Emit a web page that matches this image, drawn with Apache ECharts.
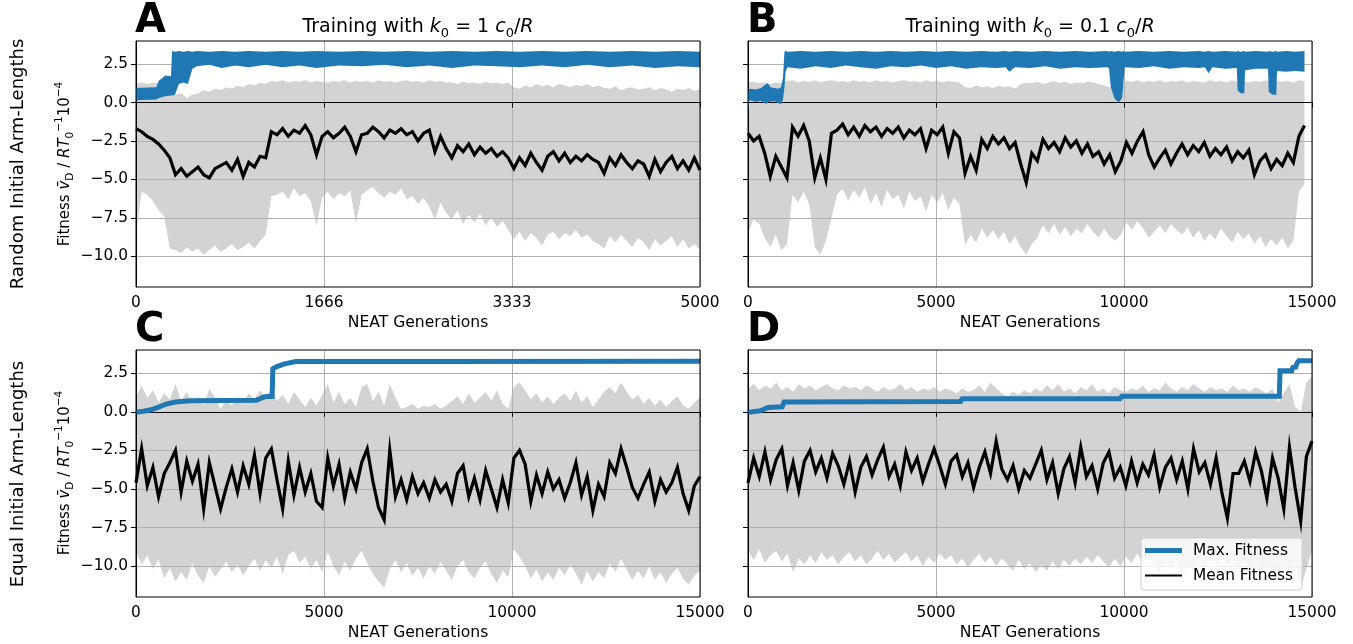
<!DOCTYPE html>
<html><head><meta charset="utf-8">
<script src="https://cdn.jsdelivr.net/npm/echarts@6/dist/echarts.min.js"></script>
<style>html,body{margin:0;padding:0;background:#fff}#c{width:1353px;height:644px}</style>
</head><body><div id="c"></div>
<script>
// ---------------- data ----------------
const genStepA = 50, genStepB = 148, genStepC = 150, genStepD = 150;

const meanA = [-1.7,-1.9,-2.2,-2.4,-2.7,-3.1,-3.6,-4.7,-4.3,-4.8,
 -4.5,-4.2,-4.7,-4.9,-4.3,-4.1,-3.9,-4.4,-3.7,-4.8,
 -3.9,-4.2,-3.5,-3.6,-1.9,-2.1,-1.7,-2.2,-1.8,-2.0,
 -1.5,-2.1,-3.4,-2.2,-1.9,-2.3,-2.0,-1.6,-2.2,-3.2,
 -2.1,-2.0,-1.6,-1.9,-2.3,-1.8,-2.0,-1.7,-2.1,-1.9,
 -2.5,-2.0,-1.8,-3.2,-2.2,-3.0,-3.6,-2.8,-3.2,-2.7,
 -3.4,-2.9,-3.3,-3.0,-3.5,-3.2,-3.6,-4.3,-3.6,-4.1,
 -3.3,-3.9,-4.4,-3.5,-3.2,-3.8,-3.3,-3.9,-3.5,-3.8,
 -3.4,-3.7,-3.9,-4.6,-3.6,-4.1,-3.4,-3.9,-4.3,-3.8,
 -4.0,-4.8,-3.7,-4.5,-3.9,-3.5,-4.3,-3.8,-4.4,-3.6,
 -4.4];
const upperA = [1.25,1.3,1.2,1.3,1.25,1.3,1.2,0.5,0.6,0.3,
 0.5,0.6,0.8,0.7,0.9,0.8,1.0,0.9,1.1,1.0,
 1.2,1.1,1.3,1.2,1.4,1.35,1.45,1.3,1.4,1.35,
 1.45,1.3,1.4,1.35,1.3,1.4,1.35,1.45,1.3,1.4,
 1.35,1.4,1.3,1.45,1.35,1.4,1.3,1.4,1.45,1.35,
 1.4,1.3,1.45,1.35,1.4,1.3,1.3,1.2,1.35,1.25,
 1.3,1.2,1.35,1.25,1.3,1.2,1.3,1.0,0.9,1.1,
 1.0,1.2,1.05,1.15,1.0,1.2,1.1,1.0,1.15,1.05,
 1.2,1.0,1.1,0.95,0.9,1.05,0.8,0.95,1.0,0.85,
 0.9,1.0,0.8,0.95,0.85,0.7,0.9,0.8,0.95,0.75,
 0.85];
const lowerA = [-8.7,-5.8,-6.0,-6.4,-7.0,-7.4,-9.5,-9.6,-9.8,-9.4,
 -9.7,-9.5,-9.9,-9.6,-9.3,-9.7,-9.5,-9.2,-9.6,-9.4,
 -9.1,-9.5,-9.0,-8.6,-6.1,-6.0,-5.8,-6.3,-5.6,-6.1,
 -5.9,-6.4,-8.0,-6.2,-5.8,-6.3,-5.9,-6.1,-5.7,-7.9,
 -6.0,-5.7,-5.5,-5.9,-6.2,-5.8,-6.0,-5.6,-6.3,-6.1,
 -6.6,-6.2,-6.8,-7.6,-6.5,-7.2,-7.6,-7.0,-7.9,-7.3,
 -7.8,-7.2,-8.0,-7.5,-8.1,-7.7,-8.3,-8.9,-8.4,-9.0,
 -8.5,-8.8,-9.3,-8.6,-8.4,-8.9,-8.5,-8.7,-8.3,-8.8,
 -8.6,-9.0,-9.2,-9.5,-8.7,-9.1,-8.6,-9.0,-9.4,-8.8,
 -9.1,-9.6,-8.9,-9.3,-9.0,-8.7,-9.4,-8.9,-9.5,-9.2,
 -9.6];
const maxAGen = [0,180,200,260,310,320,345,380,420,460,500,540,650,760,880,1000,1150,1300,1450,1600,1800,2000,2200,2400,2600,2800,3000,3200,3400,3600,3800,4000,4200,4400,4600,4800,5000];
const maxALo = [0.15,0.2,0.3,0.4,0.45,0.45,0.5,1.2,1.3,1.2,2.2,2.35,2.45,2.25,2.4,2.3,2.45,2.3,2.4,2.25,2.4,2.35,2.45,2.3,2.4,2.25,2.4,2.35,2.3,2.4,2.3,2.45,2.3,2.4,2.25,2.35,2.3];
const maxAHi = [0.95,1.0,1.4,1.75,1.7,3.35,3.3,3.35,3.3,3.35,3.3,3.35,3.3,3.35,3.3,3.35,3.3,3.35,3.3,3.35,3.3,3.35,3.3,3.35,3.3,3.35,3.3,3.35,3.3,3.35,3.3,3.35,3.3,3.35,3.3,3.35,3.3];

const meanB = [-2.0,-2.5,-2.2,-3.3,-4.8,-3.5,-4.2,-4.9,-1.6,-2.2,
 -1.5,-2.5,-4.9,-3.6,-5.0,-2.0,-1.8,-1.4,-2.1,-1.6,
 -2.2,-1.5,-1.9,-1.6,-2.2,-1.7,-2.0,-1.6,-2.3,-1.8,
 -2.1,-1.7,-3.0,-1.8,-2.1,-1.6,-3.3,-1.9,-2.3,-4.6,
 -3.5,-4.4,-2.4,-3.0,-2.2,-2.7,-2.3,-3.0,-2.6,-4.0,
 -5.2,-3.3,-3.8,-2.4,-3.0,-2.6,-3.2,-2.3,-2.9,-2.5,
 -3.3,-2.7,-3.5,-3.2,-4.0,-3.4,-4.5,-3.8,-2.6,-3.3,
 -2.5,-1.9,-3.4,-4.2,-3.6,-3.1,-4.0,-3.3,-2.7,-3.4,
 -2.8,-3.2,-2.6,-3.5,-3.0,-3.4,-2.9,-3.8,-3.2,-3.6,
 -3.1,-4.7,-3.8,-3.4,-4.3,-3.7,-4.1,-3.3,-3.9,-2.2,
 -1.5];
const upperB = [1.3,1.35,1.25,1.3,1.2,1.3,1.25,1.4,1.45,1.3,
 1.4,1.35,1.45,1.3,1.4,1.45,1.35,1.4,1.3,1.45,
 1.35,1.4,1.3,1.45,1.35,1.4,1.3,1.4,1.45,1.35,
 1.4,1.3,1.45,1.35,1.4,1.3,1.4,1.35,1.3,1.0,
 0.95,1.1,1.0,1.05,0.95,1.1,1.0,1.05,0.9,1.2,
 1.3,1.25,1.35,1.2,1.3,1.4,1.25,1.35,1.2,1.3,
 1.25,1.35,1.3,1.2,1.1,1.0,1.05,1.2,1.4,1.35,
 1.45,1.3,1.4,1.35,1.45,1.3,1.4,1.35,1.45,1.3,
 1.4,1.35,1.3,1.45,1.35,1.4,1.3,1.45,1.35,1.4,
 1.3,1.4,1.35,1.45,1.3,1.4,1.35,1.4,1.3,1.45,
 1.4];
const lowerB = [-8.5,-7.6,-7.9,-8.8,-9.4,-8.6,-9.6,-9.2,-6.0,-6.5,
 -5.8,-6.6,-9.4,-9.9,-9.0,-7.5,-6.0,-5.6,-6.4,-5.7,
 -6.2,-5.5,-6.6,-5.9,-6.8,-5.7,-6.3,-6.0,-6.9,-5.8,
 -6.4,-6.1,-7.1,-6.0,-6.5,-5.9,-7.0,-6.2,-6.6,-9.3,
 -8.6,-9.1,-8.2,-8.8,-8.3,-8.9,-8.4,-9.2,-8.7,-9.4,
 -9.9,-9.2,-8.8,-8.0,-8.5,-7.9,-8.6,-8.1,-8.7,-8.2,
 -8.5,-7.9,-8.4,-8.8,-8.2,-8.7,-9.0,-8.6,-7.8,-8.3,
 -7.7,-8.2,-8.8,-8.4,-8.0,-8.5,-7.9,-8.3,-8.6,-8.1,
 -8.8,-8.3,-9.0,-8.5,-8.9,-8.2,-8.7,-9.1,-8.4,-8.9,
 -8.5,-9.2,-8.7,-9.4,-8.9,-9.3,-8.8,-9.5,-9.0,-5.8,
 -5.3];
const maxBGen = [0,30,60,200,350,480,530,600,700,800,880,930,970,1000,1050,1400,1800,2200,2600,3000,3400,3800,4200,4600,5000,5400,5800,6200,6600,6850,6950,7100,7500,7900,8300,8700,9100,9550,9600,9650,9750,9860,9950,9980,10020,10400,10800,11200,11600,12000,12150,12250,12350,12700,13000,13020,13100,13200,13220,13500,13830,13850,13950,14050,14070,14300,14550,14800];
const maxBLo = [-0.6,0.1,0.15,0.05,0.1,-0.1,0.0,0.05,0.1,-0.05,-0.1,0.2,1.0,2.0,2.3,2.2,2.35,2.25,2.4,2.3,2.2,2.35,2.3,2.4,2.25,2.35,2.2,2.3,2.25,2.3,2.0,2.3,2.25,2.35,2.2,2.3,2.25,2.3,2.25,1.0,0.25,0.0,0.3,1.2,2.3,2.25,2.35,2.2,2.3,2.25,2.3,1.9,2.3,2.2,2.25,0.8,0.6,0.6,2.1,2.2,2.2,0.7,0.5,0.5,2.05,2.0,2.05,2.0];
const maxBHi = [0.7,0.85,0.9,0.85,0.95,1.2,1.25,1.0,0.95,0.9,1.0,1.6,3.3,3.35,3.3,3.35,3.3,3.35,3.3,3.35,3.3,3.35,3.3,3.35,3.3,3.35,3.3,3.35,3.3,3.35,3.3,3.35,3.3,3.35,3.3,3.35,3.3,3.35,3.3,3.35,3.3,3.35,3.3,3.35,3.3,3.35,3.3,3.35,3.3,3.35,3.3,3.35,3.3,3.35,3.3,3.35,3.3,3.35,3.3,3.35,3.3,3.35,3.3,3.35,3.3,3.35,3.3,3.35];

const meanC = [-4.6,-2.4,-4.8,-3.6,-5.5,-4.0,-3.3,-2.5,-5.2,-3.2,
 -4.5,-3.4,-6.3,-3.3,-4.8,-6.3,-4.9,-3.7,-5.2,-3.5,
 -4.7,-2.8,-5.3,-3.0,-2.4,-4.4,-6.3,-3.2,-5.4,-3.6,
 -5.2,-4.0,-5.8,-6.2,-3.0,-4.8,-3.4,-5.6,-3.9,-5.0,
 -3.3,-2.4,-4.5,-6.2,-7.0,-2.5,-5.5,-4.4,-5.7,-4.2,
 -5.3,-4.6,-5.6,-4.4,-5.2,-4.7,-5.8,-4.0,-3.5,-5.5,
 -4.3,-5.7,-3.8,-5.0,-6.2,-4.4,-5.9,-3.0,-2.5,-3.4,
 -5.8,-4.1,-5.3,-3.9,-5.0,-4.4,-5.6,-4.6,-3.3,-5.4,
 -4.2,-6.4,-4.7,-5.5,-3.3,-4.0,-2.4,-3.6,-4.9,-5.6,
 -4.7,-3.9,-5.8,-4.4,-5.2,-4.6,-3.6,-5.3,-6.4,-4.8,
 -4.2];
const upperC = [1.0,1.7,0.9,1.4,0.6,1.2,0.8,1.8,0.7,1.3,
 0.5,1.0,0.4,1.5,0.9,0.2,0.7,0.4,1.0,0.6,
 1.2,0.8,1.4,0.9,1.5,0.7,1.1,0.5,1.3,0.8,
 0.3,0.9,0.4,1.1,1.8,0.6,1.3,0.5,0.9,0.3,
 1.6,1.8,0.7,1.3,0.4,1.8,0.9,0.2,0.3,0.5,
 0.2,0.4,0.3,0.5,0.2,0.4,0.7,1.0,0.5,1.2,
 0.6,0.9,1.3,0.7,1.4,0.5,0.2,1.6,1.9,1.4,
 0.8,1.2,0.6,1.0,0.5,0.9,1.2,0.7,1.4,0.6,
 1.0,0.3,0.8,1.3,1.6,1.2,1.9,1.3,0.8,1.1,
 0.5,0.9,0.4,0.8,0.3,0.7,1.0,0.4,0.2,0.6,
 0.9];
const lowerC = [-9.0,-9.9,-9.3,-10.2,-9.6,-10.8,-10.1,-11.0,-10.4,-10.9,
 -9.8,-10.6,-11.1,-10.0,-10.7,-10.2,-9.7,-10.4,-9.9,-10.6,
 -10.0,-9.5,-10.3,-9.6,-10.1,-9.4,-10.5,-9.3,-9.0,-9.8,
 -9.4,-10.2,-9.6,-10.4,-9.1,-10.0,-10.6,-9.7,-10.3,-9.5,
 -9.0,-9.8,-10.5,-11.0,-11.4,-10.2,-9.6,-10.4,-9.8,-10.6,
 -10.1,-10.8,-10.0,-10.5,-9.7,-10.3,-10.9,-10.0,-9.6,-10.4,
 -10.8,-10.1,-9.7,-10.5,-11.1,-10.3,-10.7,-8.9,-9.4,-10.0,
 -10.8,-10.2,-11.0,-10.4,-10.9,-10.1,-10.6,-9.9,-10.5,-11.2,
 -10.3,-11.0,-10.4,-10.8,-9.8,-10.4,-9.5,-10.2,-10.9,-10.3,
 -10.8,-10.0,-10.9,-10.4,-11.1,-10.5,-10.1,-10.8,-11.2,-10.6,
 -10.3];
const maxCGen = [0,200,400,600,800,1050,1450,2300,3200,3300,3420,3620,3640,3750,3950,4250,8000,15000];
const maxCVal = [-0.03,0.03,0.13,0.3,0.5,0.63,0.71,0.73,0.75,0.84,0.97,1.0,2.78,2.93,3.1,3.25,3.25,3.27];

const meanD = [-4.6,-3.0,-4.2,-2.6,-4.4,-3.1,-2.4,-4.8,-3.3,-5.1,
 -3.2,-2.5,-3.9,-3.0,-4.3,-2.7,-3.5,-4.7,-3.2,-5.2,
 -3.6,-2.9,-4.1,-3.1,-2.3,-4.2,-3.4,-4.8,-2.6,-3.8,
 -3.0,-4.5,-3.4,-2.4,-3.5,-4.7,-3.2,-2.8,-4.2,-3.3,
 -4.9,-3.6,-2.6,-4.0,-1.9,-3.7,-4.4,-3.5,-5.0,-3.8,
 -4.3,-3.4,-2.5,-4.4,-3.3,-5.3,-3.7,-2.9,-4.6,-2.3,
 -4.2,-3.5,-5.0,-3.3,-2.6,-4.3,-3.6,-4.8,-3.2,-4.6,
 -3.4,-4.1,-2.8,-4.9,-3.6,-3.0,-4.4,-3.2,-5.0,-2.4,
 -3.9,-3.3,-4.7,-3.0,-5.2,-6.9,-4.0,-4.0,-3.2,-4.5,
 -2.6,-3.8,-5.6,-3.0,-4.3,-6.3,-2.3,-4.9,-7.1,-2.9,
 -1.9];
const upperD = [1.5,1.8,1.4,1.7,1.5,1.9,1.4,1.6,1.3,1.8,
 1.5,1.7,1.4,1.6,1.8,1.5,1.4,1.7,1.5,1.6,
 1.4,1.7,1.5,1.3,1.6,1.4,1.5,1.8,1.4,1.6,
 1.3,1.5,1.4,1.6,1.3,1.5,1.4,1.2,1.5,1.3,
 1.4,1.7,1.3,1.9,1.5,1.2,1.0,1.3,1.1,1.4,
 1.2,1.5,1.3,1.7,1.4,1.8,1.3,1.5,1.2,1.6,
 1.4,1.8,1.3,1.5,1.2,1.6,1.4,1.3,1.5,1.4,
 1.7,1.3,1.5,1.4,1.9,1.5,1.3,1.6,1.4,1.8,
 1.5,1.3,1.6,1.4,1.5,1.3,1.7,1.4,1.5,1.3,
 1.6,1.4,1.2,1.5,0.6,1.2,1.8,0.3,0.0,1.9,
 2.3];
const lowerD = [-9.0,-9.6,-8.9,-9.8,-9.3,-9.0,-9.7,-9.2,-10.4,-9.5,
 -9.9,-9.3,-9.8,-9.1,-9.6,-9.3,-9.9,-9.4,-9.1,-9.7,
 -9.3,-9.9,-9.5,-9.0,-9.6,-9.2,-9.8,-9.4,-9.1,-9.7,
 -9.3,-10.0,-9.4,-9.8,-9.2,-9.6,-9.3,-9.9,-9.5,-10.1,
 -9.6,-9.2,-9.8,-9.4,-10.0,-9.5,-9.9,-10.3,-9.6,-10.2,
 -9.8,-10.4,-9.9,-10.3,-9.7,-10.2,-9.6,-10.0,-9.5,-9.9,
 -9.4,-9.8,-9.3,-9.7,-10.1,-9.5,-10.0,-9.4,-9.8,-9.2,
 -9.7,-9.3,-9.9,-10.5,-9.7,-10.2,-9.6,-10.6,-9.9,-10.3,
 -9.6,-10.1,-9.5,-9.9,-9.4,-10.0,-9.6,-10.2,-9.7,-10.4,
 -9.8,-10.3,-9.9,-10.6,-10.9,-10.0,-10.5,-9.8,-11.4,-10.2,
 -9.0];
const maxDGen = [0,330,380,530,910,960,1010,5650,5700,9890,9940,14130,14150,14460,14490,14570,14600,14650,15000];
const maxDVal = [-0.04,0.06,0.17,0.28,0.32,0.63,0.67,0.67,0.84,0.84,1.0,1.0,2.65,2.65,2.87,2.9,3.15,3.3,3.3];

const xTicksA = [0, 5000/3, 10000/3, 5000];
const xTicksLong = [0, 5000, 10000, 15000];
const yTicks = [-10, -7.5, -5, -2.5, 0, 2.5];
const panelLetters = ['A','B','C','D'];
const rowLabels = ['Random Initial Arm-Lengths', 'Equal Initial Arm-Lengths'];
const xName = 'NEAT Generations';
const legendNames = ['Max. Fitness', 'Mean Fitness'];

// ---------------- build ----------------
const FONT = 'DejaVu Sans';
const BLUE = '#1f77b4', GRAY = '#d3d3d3', GRID = '#b0b0b0';
const idxGens = (step, arr) => arr.map((_, i) => i * step);
const pairs = (xs, ys) => ys.map((y, i) => [xs[i], y]);

// filled band between lo and hi, drawn through the axis scales (api.coord)
function bandSeries(ax, key, xs, lo, hi, color, z) {
  return {type:'custom', name:key, xAxisIndex:ax, yAxisIndex:ax, z, silent:true, animation:false, clip:true,
    data: xs.map((x, i) => [x, lo[i], hi[i]]),
    encode: {x:0, y:[1,2]},
    renderItem: (params, api) => {
      if (params.dataIndex !== 0) return null;
      const top = xs.map((x, i) => api.coord([x, hi[i]]));
      const bot = xs.map((x, i) => api.coord([x, lo[i]])).reverse();
      return {type:'polygon', shape:{points: top.concat(bot)}, style:{fill:color, stroke:null}};
    }};
}
function lineSeries(ax, name, xs, ys, color, width, z) {
  return {type:'line', name, xAxisIndex:ax, yAxisIndex:ax, data:pairs(xs, ys), symbol:'none', showSymbol:false,
    silent:true, animation:false, z, lineStyle:{color, width, join:'miter'}, itemStyle:{color}};
}

const gA = idxGens(genStepA, meanA), gB = idxGens(genStepB, meanB),
      gC = idxGens(genStepC, meanC), gD = idxGens(genStepD, meanD);
const MW = 3.2;
const series = [
  bandSeries(0, 'grayA', gA, lowerA, upperA, GRAY, 1),
  bandSeries(0, 'maxA', maxAGen, maxALo, maxAHi, BLUE, 3),
  lineSeries(0, 'meanA', gA, meanA, '#000', MW, 4),
  bandSeries(1, 'grayB', gB, lowerB, upperB, GRAY, 1),
  bandSeries(1, 'maxB', maxBGen, maxBLo, maxBHi, BLUE, 3),
  lineSeries(1, 'meanB', gB, meanB, '#000', MW, 4),
  bandSeries(2, 'grayC', gC, lowerC, upperC, GRAY, 1),
  lineSeries(2, 'maxC', maxCGen, maxCVal, BLUE, 5, 3),
  lineSeries(2, 'meanC', gC, meanC, '#000', MW, 4),
  bandSeries(3, 'grayD', gD, lowerD, upperD, GRAY, 1),
  lineSeries(3, legendNames[0], maxDGen, maxDVal, BLUE, 5, 3),
  lineSeries(3, legendNames[1], gD, meanD, '#000', MW, 4)
];

const gridPos = [[136,41,564,246],[748,41,564,246],[136,350,564,247],[748,350,564,247]];
const grid = gridPos.map(p => ({left:p[0], top:p[1], width:p[2], height:p[3], show:true,
  borderColor:'#000', borderWidth:1, backgroundColor:'transparent', z:10}));

const xAxis = gridPos.map((p, i) => {
  const ticks = i === 0 ? xTicksA : xTicksLong;
  return {gridIndex:i, type:'value', min:0, max:ticks[ticks.length-1], z:2,
    axisLine:{show:true, lineStyle:{color:'#000', width:1}},
    axisTick:{show:true, length:5, customValues:ticks, lineStyle:{color:'#000', width:1}},
    axisLabel:{customValues:ticks, margin:8, fontFamily:FONT, fontSize:15.4, color:'#000',
      formatter:v => String(Math.floor(v + 1e-6))},
    splitLine:{show:true, lineStyle:{color:GRID, width:1}},
    name:xName, nameLocation:'middle', nameGap:28,
    nameTextStyle:{fontFamily:FONT, fontSize:15.6, color:'#000'}};
});
const yAxis = gridPos.map((p, i) => ({gridIndex:i, type:'value', min:-12, max:4, z:2,
  axisLine:{show:true, lineStyle:{color:'#000', width:1}},
  axisTick:{show:true, length:5, customValues:yTicks, lineStyle:{color:'#000', width:1}},
  axisLabel:{show:i % 2 === 0, customValues:yTicks, margin:8, fontFamily:FONT, fontSize:15.4, color:'#000',
    formatter:v => (v < 0 ? '\u2212' : '') + Math.abs(v).toFixed(1)},
  splitLine:{show:true, lineStyle:{color:GRID, width:1}}}));

const rich = {
  n:{fontFamily:FONT, fontSize:19, lineHeight:26, color:'#000'},
  i:{fontFamily:FONT, fontSize:19, lineHeight:26, fontStyle:'italic', color:'#000'},
  s:{fontFamily:FONT, fontSize:13, lineHeight:16, verticalAlign:'bottom', color:'#000'}
};
const yRich = {
  n:{fontFamily:FONT, fontSize:15, lineHeight:22, color:'#000'},
  i:{fontFamily:FONT, fontSize:15, lineHeight:22, fontStyle:'italic', color:'#000'},
  s:{fontFamily:FONT, fontSize:10.5, lineHeight:13, verticalAlign:'bottom', color:'#000'},
  p:{fontFamily:FONT, fontSize:10.5, lineHeight:12, verticalAlign:'top', color:'#000'}
};
const yNameText = '{n|Fitness }{i|v\u0304}{s|D}{n| / }{i|RT}{s|0}{p|\u22121}{n|10}{p|\u22124}';
function txt(x, y, text, extra, rot) {
  return {type:'text', x, y, rotation:rot || 0, silent:true, z:30,
    style:Object.assign({text, fill:'#000', align:'center', verticalAlign:'middle',
      textAlign:'center', textVerticalAlign:'middle'}, extra)};
}
const letterPos = [[135,22],[747,22],[135,331],[747,331]];
const graphic = [].concat(
  letterPos.map((p, i) => txt(p[0], p[1], panelLetters[i],
    {font:'bold 40px "DejaVu Sans"', align:'left', textAlign:'left'})),
  [txt(418, 27.5, '{n|Training with }{i|k}{s|0}{n| = 1 }{i|c}{s|0}{n|/}{i|R}', {rich}),
   txt(1030, 27.5, '{n|Training with }{i|k}{s|0}{n| = 0.1 }{i|c}{s|0}{n|/}{i|R}', {rich}),
   txt(18, 164, rowLabels[0], {font:'18px "DejaVu Sans"'}, Math.PI/2),
   txt(18, 474, rowLabels[1], {font:'18px "DejaVu Sans"'}, Math.PI/2),
   txt(65, 164, yNameText, {rich:yRich}, Math.PI/2),
   txt(65, 473, yNameText, {rich:yRich}, Math.PI/2)]
);

const chart = echarts.init(document.getElementById('c'), null, {renderer:'canvas'});
chart.setOption({
  animation:false,
  backgroundColor:'#fff',
  grid, xAxis, yAxis, series, graphic,
  legend:{data:[
      {name:legendNames[0], icon:'path://M0,0L37,0L37,5L0,5Z'},
      {name:legendNames[1], icon:'path://M0,0L37,0L37,2L0,2Z'}],
    orient:'vertical', left:1141, top:538,
    itemWidth:37, itemHeight:14, itemGap:10, padding:[5,9,7,4], selectedMode:false,
    backgroundColor:'rgba(255,255,255,0.8)', borderColor:'#cccccc', borderWidth:1, borderRadius:3,
    textStyle:{fontFamily:FONT, fontSize:15.4, color:'#000', padding:[0,0,0,6]}, z:20}
});
</script></body></html>
